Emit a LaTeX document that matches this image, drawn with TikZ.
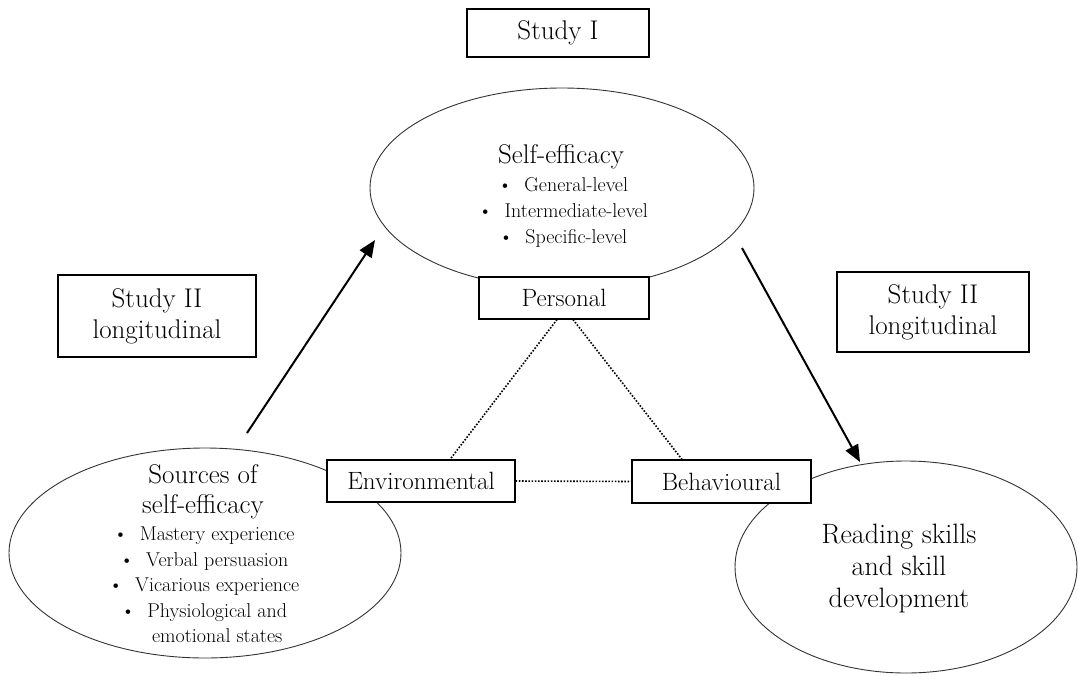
\documentclass[tikz,border=0pt]{standalone}
\usetikzlibrary{shapes.geometric,arrows.meta}
\newcommand\fsz[2]{\fontsize{#1}{#2}\selectfont}
\begin{document}
\begin{tikzpicture}[x=1pt,y=-1pt,
  ell/.style={draw=black!80,line width=0.9pt,ellipse,inner sep=0pt},
  lbox/.style={draw,line width=1.1pt,fill=white,rectangle,inner sep=0pt,font=\fsz{25}{28}},
  sbox/.style={draw,line width=1.1pt,fill=white,rectangle,inner sep=0pt,align=center,font=\fsz{27}{31}},
  ttl/.style={align=center,inner sep=0pt,font=\fsz{27}{31}},
  blt/.style={align=center,inner sep=0pt,font=\fsz{20}{26}},
  dotline/.style={line width=1.6pt,dash pattern=on 1.6pt off 1.6pt},
  bigarrow/.style={line width=2pt,-{Triangle[length=17pt,width=14pt]}}
]
\useasboundingbox (0,0) rectangle (1078,675);

% ellipses
\node[ell,minimum width=384pt,minimum height=200pt] (se) at (562,188) {};
\node[ell,minimum width=392pt,minimum height=210pt] (src) at (205,553) {};
\node[ell,minimum width=342pt,minimum height=212pt] (rd) at (906,567) {};

% ellipse texts
\node[ttl] (setitle) at (561,157) {Self-efficacy};
\node[blt] (sebul) at (563,212) {\textbullet\ \ General-level\\ \textbullet\ \ Intermediate-level\\ \textbullet\ \ Specific-level};

\node[ttl,font=\fsz{27}{30}] (srctitle) at (203,492) {Sources of\\ self-efficacy};
\node[blt,font=\fsz{20}{25.5}] (srcbul) at (204,585) {\textbullet\ \ Mastery experience\\ \textbullet\ \ Verbal persuasion\\ \textbullet\ \ Vicarious experience\\ \textbullet\ \ Physiological and\\ \hphantom{\textbullet\ \ }emotional states};

\node[ttl,font=\fsz{28}{32}] (rdtitle) at (899,569) {Reading skills\\ and skill\\ development};

% boxes
\node[sbox,minimum width=182pt,minimum height=48pt] (s1) at (558,33) {Study I};
\node[sbox,minimum width=198pt,minimum height=82pt] (s2l) at (157,316) {Study II\\ longitudinal};
\node[sbox,minimum width=192pt,minimum height=80pt] (s2r) at (933,312) {Study II\\ longitudinal};

\node[lbox,minimum width=170pt,minimum height=42pt] (pers) at (564,298) {Personal};
\node[lbox,minimum width=188pt,minimum height=42pt] (env) at (421,481) {Environmental};
\node[lbox,minimum width=179pt,minimum height=43pt] (beh) at (721.5,481.5) {Behavioural};

% dotted triangle
\draw[dotline] ([xshift=-7pt]pers.south) -- ([xshift=29pt]env.north);
\draw[dotline] ([xshift=9pt]pers.south) -- ([xshift=-39.5pt]beh.north);
\draw[dotline] (env.east) -- (beh.west);

% arrows
\coordinate (a1s) at (247,433);
\coordinate (a1e) at (375,240);
\coordinate (a2s) at (742,248);
\coordinate (a2e) at (860,462);
\draw[bigarrow] (a1s) -- (a1e);
\draw[bigarrow] (a2s) -- (a2e);
\end{tikzpicture}
\end{document}
